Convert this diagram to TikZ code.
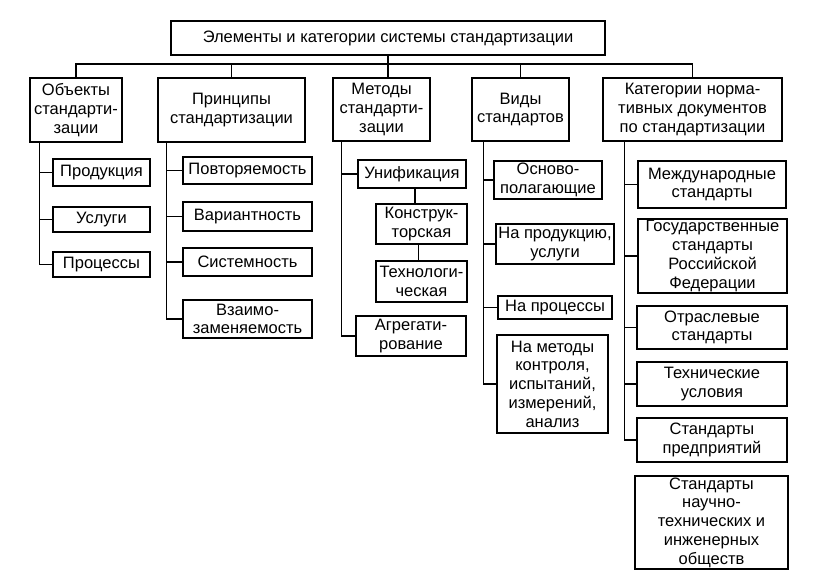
\documentclass[tikz,border=0pt]{standalone}
\usepackage{fontspec}
\setmainfont{Liberation Sans}
\usetikzlibrary{calc}
\newcommand\mybox[6]{\node[box,minimum width={#4pt-#2pt},minimum height={#5pt-#3pt}] (#1) at ({(#2+#4)/2},{(#3+#5)/2}) {#6};}
\begin{document}
\begin{tikzpicture}[x=1pt,y=-1pt,
  box/.style={draw, line width=1.4pt, inner sep=0pt, align=center,
    font=\fontsize{16.5}{18.7}\selectfont},
  conn/.style={line width=1.4pt}]
\fill[white] (0,0) rectangle (829,579);
\useasboundingbox (0,0) rectangle (829,579);

\mybox{title}{171}{21}{605}{55}{Элементы и категории системы стандартизации}
\mybox{ob}{30}{78}{122}{142}{Объекты\\стандарти-\\зации}
\mybox{pr}{158}{78}{305}{142}{Принципы\\стандартизации}
\mybox{met}{333}{78}{430}{141}{Методы\\стандарти-\\зации}
\mybox{vid}{472}{78}{569}{141}{Виды\\стандартов}
\mybox{kat}{603}{78}{782}{141}{Категории норма-\\тивных документов\\по стандартизации}

\mybox{ob1}{53}{159}{150}{186}{Продукция}
\mybox{ob2}{53}{207}{150}{232}{Услуги}
\mybox{ob3}{53}{252}{150}{277}{Процессы}

\mybox{pr1}{183}{157}{312}{184}{Повторяемость}
\mybox{pr2}{183}{202}{312}{231}{Вариантность}
\mybox{pr3}{183}{248}{312}{276}{Системность}
\mybox{pr4}{183}{300}{312}{338}{Взаимо-\\заменяемость}

\mybox{m1}{358}{160}{466}{188}{Унификация}
\mybox{m2}{376}{204}{467}{244}{Конструк-\\торская}
\mybox{m3}{376}{261}{467}{302}{Технологи-\\ческая}
\mybox{m4}{356}{316}{466}{356}{Агрегати-\\рование}

\mybox{v1}{494}{161}{602}{199}{Осново-\\полагающие}
\mybox{v2}{496}{224}{614}{264}{На продукцию,\\услуги}
\mybox{v3}{498}{296}{612}{319}{На процессы}
\mybox{v4}{497}{335}{608}{433}{На методы\\контроля,\\испытаний,\\измерений,\\анализ}

\mybox{k1}{638}{161}{786}{208}{Международные\\стандарты}
\mybox{k2}{638}{219}{787}{293}{Государственные\\стандарты\\Российской\\Федерации}
\mybox{k3}{637}{306}{787}{349}{Отраслевые\\стандарты}
\mybox{k4}{637}{362}{787}{406}{Технические\\условия}
\mybox{k5}{637}{418}{787}{462}{Стандарты\\предприятий}
\mybox{k6}{635}{476}{788}{569}{Стандарты\\научно-\\технических и\\инженерных\\обществ}

% top bus
\coordinate (bus) at (0,64);
\draw[conn] (title.south) -- (title.south |- met.north);
\draw[conn] (ob.north) -- (ob.north |- bus) -- (kat.north |- bus) -- (kat.north);
\draw[conn] (pr.north) -- (pr.north |- bus);
\draw[conn] (vid.north) -- (vid.north |- bus);

% spines
\coordinate (obS) at ($(ob.south west)+(10,0)$);
\coordinate (prS) at ($(pr.south west)+(9,0)$);
\coordinate (metS) at ($(met.south west)+(9,0)$);
\coordinate (vidS) at ($(vid.south west)+(12,0)$);
\coordinate (katS) at ($(kat.south west)+(22,0)$);

\draw[conn] (obS) |- (ob3.west);
\draw[conn] (ob1.west) -- (obS |- ob1.west);
\draw[conn] (ob2.west) -- (obS |- ob2.west);

\draw[conn] (prS) |- (pr4.west);
\draw[conn] (pr1.west) -- (prS |- pr1.west);
\draw[conn] (pr2.west) -- (prS |- pr2.west);
\draw[conn] (pr3.west) -- (prS |- pr3.west);

\draw[conn] (metS) |- (m4.west);
\draw[conn] (m1.west) -- (metS |- m1.west);
\coordinate (m1b) at ($(m1.south)+(3,0)$);
\draw[conn] (m1b) -- (m1b |- m2.north);
\coordinate (m2b) at ($(m2.south)+(-3,0)$);
\draw[conn] (m2b) -- (m2b |- m3.north);

\draw[conn] (vidS) |- (v4.west);
\draw[conn] (v1.west) -- (vidS |- v1.west);
\draw[conn] (v2.west) -- (vidS |- v2.west);
\draw[conn] (v3.west) -- (vidS |- v3.west);

\draw[conn] (katS) |- (k5.west);
\draw[conn] (k1.west) -- (katS |- k1.west);
\draw[conn] (k2.west) -- (katS |- k2.west);
\draw[conn] (k3.west) -- (katS |- k3.west);
\draw[conn] (k4.west) -- (katS |- k4.west);
\end{tikzpicture}
\end{document}
